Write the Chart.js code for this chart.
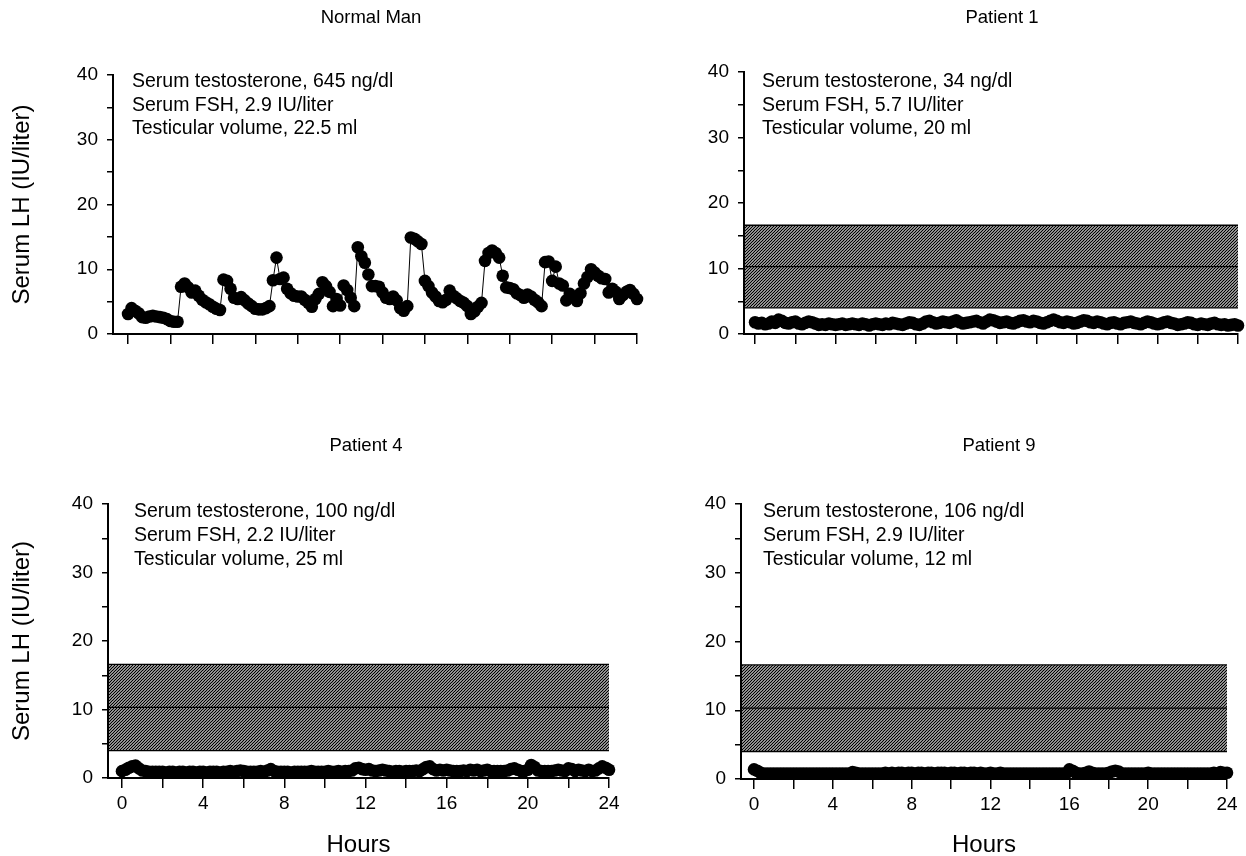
<!DOCTYPE html>
<html>
<head>
<meta charset="utf-8">
<title>Serum LH profiles</title>
<script src="https://cdn.jsdelivr.net/npm/chart.js@4.4.1/dist/chart.umd.min.js"></script>
<style>
    body {
        margin: 0;
        background: #fff;
        overflow: hidden;
    }

    #wrap {
        position: relative;
        width: 1246px;
        height: 856px;
    }

    canvas {
        position: absolute;
    }
</style>
</head>
<body>
<div id="wrap">
    <canvas id="p1" width="645" height="380" style="left:0px;top:0px"></canvas>
    <canvas id="p2" width="606" height="380" style="left:640px;top:0px"></canvas>
    <canvas id="p3" width="645" height="470" style="left:0px;top:390px"></canvas>
    <canvas id="p4" width="606" height="470" style="left:640px;top:390px"></canvas>
</div>
<script>
    // tick values
    const hourTicks = [0, 2, 4, 6, 8, 10, 12, 14, 16, 18, 20, 22, 24]
    const lhTicks = [0, 5, 10, 15, 20, 25, 30, 35, 40]

    // normal range band (IU/liter)
    const bandLow = 4.0
    const bandMean = 10.3
    const bandHigh = 16.6

    // serum LH every 10 min, one row = 2 hours
    const normalLH = [
        3.1, 4.0, 3.6, 3.2, 2.6, 2.5, 2.7, 2.8, 2.7, 2.6, 2.5, 2.3,
        2.0, 1.9, 1.9, 7.3, 7.8, 7.2, 6.4, 6.7, 5.9, 5.3, 4.9, 4.6,
        4.2, 3.9, 3.7, 8.4, 8.2, 7.0, 5.6, 5.4, 5.7, 5.2, 4.7, 4.3,
        3.9, 3.8, 3.8, 4.0, 4.3, 8.3, 11.8, 8.5, 8.7, 7.0, 6.3, 5.9,
        5.8, 5.8, 5.3, 4.8, 4.2, 5.4, 6.2, 8.0, 7.4, 6.5, 4.3, 5.4,
        4.4, 7.5, 6.8, 5.6, 4.3, 13.4, 12.0, 11.0, 9.2, 7.4, 7.4, 7.3,
        6.4, 5.6, 5.4, 5.8, 5.2, 4.0, 3.6, 4.3, 14.9, 14.7, 14.3, 13.9,
        8.2, 7.4, 6.4, 5.8, 5.1, 4.9, 5.3, 6.7, 5.9, 5.5, 5.1, 4.8,
        4.3, 3.1, 3.5, 4.2, 4.8, 11.3, 12.5, 12.9, 12.5, 11.8, 9.0, 7.2,
        7.1, 6.9, 6.3, 6.0, 5.6, 6.1, 5.8, 5.3, 4.9, 4.3, 11.1, 11.2,
        8.2, 10.4, 7.8, 7.5, 5.2, 6.2, 5.7, 5.1, 6.3, 7.8, 8.8, 10.0,
        9.5, 9.0, 8.6, 8.5, 6.4, 7.0, 6.5, 5.4, 6.0, 6.5, 6.8, 6.2,
        5.4
    ]
    const patient1LH = [
        1.8, 1.6, 1.7, 1.5, 1.6, 1.9, 1.7, 2.2, 2.0, 1.7, 1.6, 1.8,
        1.9, 1.6, 1.5, 1.7, 1.9, 1.8, 1.6, 1.4, 1.5, 1.4, 1.6, 1.5,
        1.4, 1.5, 1.6, 1.4, 1.5, 1.6, 1.5, 1.4, 1.6, 1.5, 1.3, 1.5,
        1.6, 1.5, 1.4, 1.6, 1.5, 1.7, 1.6, 1.5, 1.4, 1.6, 1.8, 1.7,
        1.5, 1.4, 1.6, 1.9, 2.0, 1.8, 1.6, 1.7, 1.9, 1.8, 1.7, 1.9,
        2.1, 1.8, 1.6, 1.7, 1.8, 1.9, 2.0, 1.8, 1.6, 1.9, 2.2, 2.1,
        1.9, 1.7, 1.8, 1.9, 1.7, 1.6, 1.8, 2.0, 2.1, 1.9, 1.8, 2.0,
        1.9, 1.7, 1.6, 1.8, 2.0, 2.2, 2.0, 1.8, 1.7, 1.9, 1.8, 1.6,
        1.7, 1.9, 2.1, 2.0, 1.8, 1.7, 1.9, 1.8, 1.6, 1.5, 1.7, 1.8,
        1.6, 1.5, 1.7, 1.8, 1.9, 1.7, 1.6, 1.5, 1.7, 1.9, 1.8, 1.6,
        1.5, 1.6, 1.8, 1.9, 1.7, 1.6, 1.4, 1.5, 1.6, 1.8, 1.7, 1.5,
        1.4, 1.6, 1.5, 1.4, 1.6, 1.7, 1.5, 1.4, 1.5, 1.3, 1.4, 1.5,
        1.3
    ]
    const patient4LH = [
        1.0, 1.2, 1.5, 1.7, 1.8, 1.4, 1.1, 1.0, 0.9, 0.9, 0.9, 0.9,
        0.9, 0.8, 0.9, 0.9, 0.8, 0.9, 0.9, 0.8, 0.9, 0.9, 0.8, 0.9,
        0.9, 0.8, 0.9, 0.9, 0.9, 0.8, 0.9, 0.9, 1.0, 0.9, 1.0, 1.1,
        1.0, 0.9, 0.9, 0.9, 0.9, 1.0, 0.9, 1.1, 1.3, 1.0, 0.9, 0.9,
        0.9, 0.9, 0.8, 0.9, 0.9, 0.9, 0.9, 0.9, 1.0, 0.9, 0.9, 0.9,
        0.9, 1.0, 0.9, 0.9, 1.0, 0.9, 1.0, 1.0, 1.1, 1.4, 1.5, 1.3,
        1.2, 1.3, 1.1, 1.0, 1.1, 1.2, 1.1, 1.0, 0.9, 1.0, 1.0, 0.9,
        1.0, 1.0, 1.0, 1.1, 1.0, 1.3, 1.6, 1.7, 1.3, 1.1, 1.2, 1.1,
        1.2, 1.1, 1.0, 1.0, 1.0, 1.1, 1.0, 1.2, 1.1, 1.2, 1.0, 1.1,
        1.2, 1.0, 1.0, 1.0, 1.0, 1.0, 1.1, 1.3, 1.4, 1.2, 1.0, 1.0,
        1.2, 1.9, 1.6, 1.1, 1.0, 1.0, 1.0, 1.0, 1.1, 1.2, 1.1, 1.0,
        1.4, 1.3, 1.0, 1.2, 1.1, 1.0, 1.2, 1.0, 1.1, 1.4, 1.7, 1.5,
        1.2
    ]
    const patient9LH = [
        1.4, 1.2, 0.9, 0.8, 0.8, 0.8, 0.8, 0.8, 0.8, 0.8, 0.8, 0.8,
        0.8, 0.8, 0.8, 0.8, 0.8, 0.8, 0.8, 0.8, 0.8, 0.8, 0.8, 0.8,
        0.8, 0.8, 0.8, 0.8, 0.8, 0.8, 1.0, 0.9, 0.8, 0.8, 0.8, 0.8,
        0.8, 0.8, 0.8, 0.8, 0.9, 0.8, 0.9, 0.8, 0.9, 0.9, 0.8, 0.9,
        0.9, 0.8, 0.9, 0.9, 0.8, 0.9, 0.9, 0.8, 0.9, 0.9, 0.9, 0.8,
        0.9, 0.9, 0.8, 0.9, 0.9, 0.8, 0.9, 0.9, 0.8, 0.9, 0.8, 0.8,
        0.9, 0.8, 0.8, 0.9, 0.8, 0.8, 0.8, 0.8, 0.8, 0.8, 0.8, 0.8,
        0.8, 0.8, 0.8, 0.8, 0.8, 0.8, 0.8, 0.8, 0.8, 0.8, 0.8, 0.8,
        1.4, 1.2, 0.9, 0.8, 0.8, 0.9, 1.1, 0.9, 0.8, 0.8, 0.8, 0.8,
        0.9, 1.1, 1.2, 1.1, 0.8, 0.8, 0.8, 0.8, 0.8, 0.8, 0.8, 0.8,
        0.9, 0.8, 0.8, 0.8, 0.8, 0.8, 0.8, 0.8, 0.8, 0.8, 0.8, 0.8,
        0.8, 0.8, 0.8, 0.8, 0.8, 0.8, 0.8, 0.8, 0.9, 0.8, 1.0, 0.9,
        0.9
    ]

    const normalNotes = ['Serum testosterone, 645 ng/dl', 'Serum FSH, 2.9 IU/liter', 'Testicular volume, 22.5 ml']
    const patient1Notes = ['Serum testosterone, 34 ng/dl', 'Serum FSH, 5.7 IU/liter', 'Testicular volume, 20 ml']
    const patient4Notes = ['Serum testosterone, 100 ng/dl', 'Serum FSH, 2.2 IU/liter', 'Testicular volume, 25 ml']
    const patient9Notes = ['Serum testosterone, 106 ng/dl', 'Serum FSH, 2.9 IU/liter', 'Testicular volume, 12 ml']

    const family = '"Liberation Sans", Arial, Helvetica, sans-serif'

    // sample times: every 10 minutes
    const hours = normalLH.map((_, i) => i / 6)

    function hatchPattern() {
        const c = document.createElement('canvas')
        c.width = 3
        c.height = 3
        const g = c.getContext('2d')
        g.strokeStyle = '#000'
        g.lineWidth = 1.25
        g.beginPath()
        g.moveTo(0, 3); g.lineTo(3, 0)
        g.moveTo(-1, 1); g.lineTo(1, -1)
        g.moveTo(2, 4); g.lineTo(4, 2)
        g.stroke()
        return g.createPattern(c, 'repeat')
    }
    const hatch = hatchPattern()

    // panel title and the three text lines inside each panel
    const notesPlugin = {
        id: 'notes',
        afterDatasetsDraw(chart, args, o) {
            const { ctx, chartArea } = chart
            ctx.save()
            ctx.fillStyle = '#000'
            ctx.textBaseline = 'middle'
            ctx.font = '18.5px ' + family
            ctx.textAlign = 'center'
            ctx.fillText(o.title, chartArea.left + o.titleDx, chartArea.top - o.titleDy)
            ctx.font = '19.5px ' + family
            ctx.textAlign = 'left'
            o.lines.forEach((t, i) => ctx.fillText(t, chartArea.left + o.dx, chartArea.top + o.dy + i * o.step))
            ctx.restore()
        }
    }

    function panel(id, o) {
        const datasets = [{
            data: o.values.map((v, i) => ({ x: hours[i], y: v })),
            showLine: true,
            borderColor: '#000',
            borderWidth: 1,
            pointRadius: 6.3,
            pointBackgroundColor: '#000',
            pointBorderWidth: 0,
            clip: false
        }]
        if (o.band) {
            const edge = y => [{ x: o.xMin, y: y }, { x: 24, y: y }]
            const common = { showLine: true, pointRadius: 0, borderColor: '#000', borderWidth: 1.3 }
            datasets.push(
                Object.assign({ data: edge(bandHigh), fill: { value: bandLow }, backgroundColor: hatch }, common),
                Object.assign({ data: edge(bandMean), fill: false }, common),
                Object.assign({ data: edge(bandLow), fill: false }, common)
            )
        }
        new Chart(document.getElementById(id), {
            type: 'scatter',
            data: { datasets: datasets },
            plugins: [notesPlugin],
            options: {
                responsive: false,
                animation: false,
                events: [],
                layout: { padding: { left: 0, right: o.padRight, top: o.padTop, bottom: 0 } },
                plugins: {
                    legend: { display: false },
                    tooltip: { enabled: false },
                    title: { display: false },
                    notes: {
                        title: o.title, titleDx: 258, titleDy: o.titleDy,
                        lines: o.notes, dx: o.noteDx, dy: o.noteDy, step: o.noteStep
                    }
                },
                scales: {
                    x: {
                        type: 'linear',
                        min: o.xMin,
                        max: 24,
                        afterBuildTicks: s => { s.ticks = hourTicks.map(v => ({ value: v })) },
                        afterFit: s => { s.height = o.xHeight },
                        border: { display: true, color: '#000', width: 2 },
                        grid: { drawOnChartArea: false, drawTicks: true, tickLength: 10, color: '#000', lineWidth: 1.5 },
                        ticks: {
                            autoSkip: false,
                            maxRotation: 0,
                            color: '#000',
                            padding: 4,
                            font: { size: 19, family: family },
                            callback: v => (o.xLabels && v % 4 === 0) ? String(v) : ''
                        },
                        title: {
                            display: o.xLabels,
                            text: 'Hours',
                            color: '#000',
                            font: { size: 24, family: family },
                            padding: { top: 0, bottom: 0 }
                        }
                    },
                    y: {
                        type: 'linear',
                        min: 0,
                        max: 40,
                        afterBuildTicks: s => { s.ticks = lhTicks.map(v => ({ value: v })) },
                        afterFit: s => { s.width = o.yWidth },
                        border: { display: true, color: '#000', width: 2 },
                        grid: { drawOnChartArea: false, drawTicks: true, tickLength: 6, color: '#000', lineWidth: 1.5 },
                        ticks: {
                            color: '#000',
                            padding: 9,
                            font: { size: 19, family: family },
                            callback: v => v % 10 === 0 ? String(v) : ''
                        },
                        title: {
                            display: o.yTitle,
                            text: 'Serum LH (IU/liter)',
                            color: '#000',
                            font: { size: 24, family: family },
                            padding: { top: 8, bottom: 0 }
                        }
                    }
                }
            }
        })
    }

    panel('p1', {
        title: 'Normal Man', values: normalLH, notes: normalNotes, band: false,
        xMin: -0.71, xLabels: false, yTitle: true,
        yWidth: 113, xHeight: 46, padRight: 8, padTop: 75, titleDy: 57,
        noteDx: 19, noteDy: 7, noteStep: 23.5
    })
    panel('p2', {
        title: 'Patient 1', values: patient1LH, notes: patient1Notes, band: true,
        xMin: -0.55, xLabels: false, yTitle: false,
        yWidth: 104, xHeight: 46, padRight: 8, padTop: 72, titleDy: 54,
        noteDx: 18, noteDy: 10, noteStep: 23.5
    })
    panel('p3', {
        title: 'Patient 4', values: patient4LH, notes: patient4Notes, band: true,
        xMin: -0.69, xLabels: true, yTitle: true,
        yWidth: 108, xHeight: 82, padRight: 36, padTop: 114, titleDy: 58,
        noteDx: 26, noteDy: 8, noteStep: 24
    })
    panel('p4', {
        title: 'Patient 9', values: patient9LH, notes: patient9Notes, band: true,
        xMin: -0.66, xLabels: true, yTitle: false,
        yWidth: 101, xHeight: 81, padRight: 19, padTop: 114, titleDy: 58,
        noteDx: 22, noteDy: 8, noteStep: 24
    })
</script>
</body>
</html>
